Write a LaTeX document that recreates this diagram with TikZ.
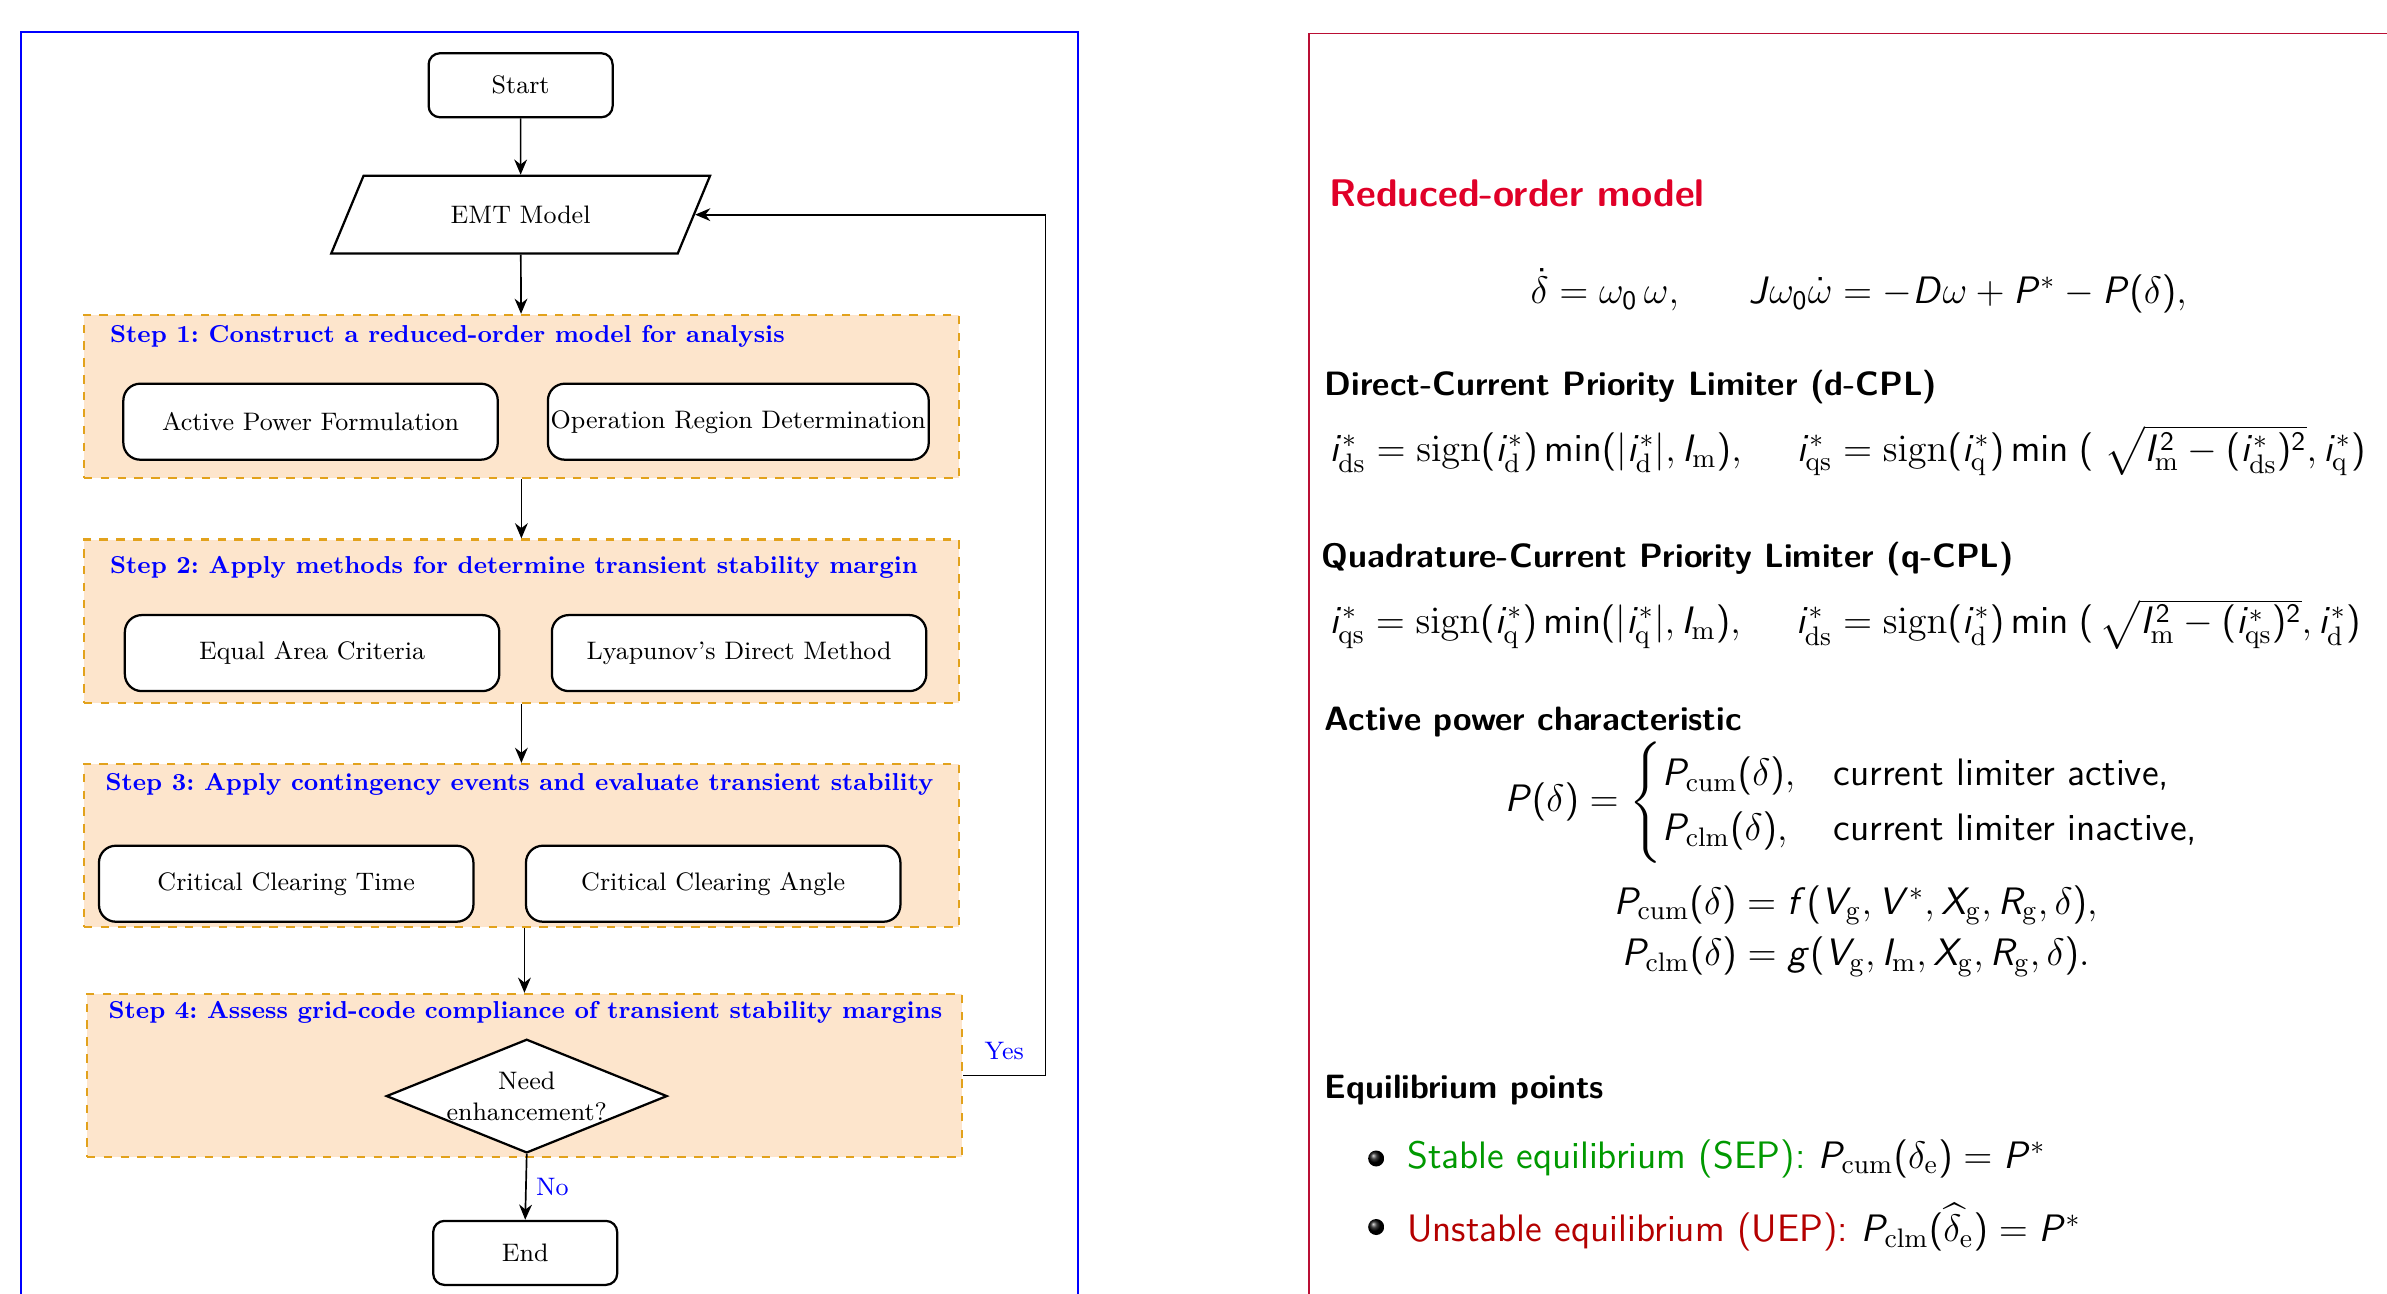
\documentclass[tikz,border=0pt]{standalone}
\usepackage{fix-cm}
\usepackage{amsmath}
\usetikzlibrary{shapes.geometric,arrows.meta,positioning}
\definecolor{stepfill}{RGB}{253,229,204}
\definecolor{stepline}{RGB}{226,162,28}
\definecolor{framered}{RGB}{186,14,52}
\definecolor{titlered}{RGB}{224,0,40}
\definecolor{sepgreen}{RGB}{0,153,0}
\definecolor{uepred}{RGB}{180,0,0}

% sans letters in maths, serif \mathrm (slide look)
\DeclareSymbolFont{sfitalic}{OT1}{cmss}{m}{sl}
\SetSymbolFont{operators}{normal}{OT1}{cmss}{m}{n}
\SetMathAlphabet{\mathrm}{normal}{OT1}{cmr}{m}{n}
\DeclareMathSymbol{D}{\mathalpha}{sfitalic}{`D}
\DeclareMathSymbol{I}{\mathalpha}{sfitalic}{`I}
\DeclareMathSymbol{J}{\mathalpha}{sfitalic}{`J}
\DeclareMathSymbol{P}{\mathalpha}{sfitalic}{`P}
\DeclareMathSymbol{R}{\mathalpha}{sfitalic}{`R}
\DeclareMathSymbol{V}{\mathalpha}{sfitalic}{`V}
\DeclareMathSymbol{X}{\mathalpha}{sfitalic}{`X}
\DeclareMathSymbol{f}{\mathalpha}{sfitalic}{`f}
\DeclareMathSymbol{g}{\mathalpha}{sfitalic}{`g}
\DeclareMathSymbol{i}{\mathalpha}{sfitalic}{`i}

\newcommand{\rmsub}[1]{\mathrm{#1}}

\tikzset{
  termbox/.style={draw, thick, rounded corners=4pt, fill=white, minimum width=2.30cm, minimum height=0.80cm, font=\small},
  iobox/.style={trapezium, trapezium left angle=66, trapezium right angle=114, trapezium stretches=true, draw, thick, fill=white, minimum width=4.74cm, minimum height=0.97cm, font=\small},
  stepbox/.style={draw=stepline, thick, dashed, fill=stepfill, minimum width=10.94cm, minimum height=2.04cm},
  methodbox/.style={draw, thick, rounded corners=6pt, fill=white, minimum width=4.68cm, minimum height=0.95cm, inner sep=1pt, font=\small},
  steptitle/.style={anchor=west, inner xsep=0pt, text=blue, font=\fontsize{8.7}{10}\selectfont\bfseries\frenchspacing},
  decbox/.style={diamond, draw, thick, fill=white, aspect=2.47, minimum width=3.39cm, minimum height=1.37cm, inner sep=0pt, align=center, font=\small},
  flow/.style={semithick, -{Stealth[length=1.9mm, width=1.6mm]}},
  sechead/.style={anchor=west, inner xsep=0pt, font=\sffamily\bfseries\fontsize{12}{14}\selectfont},
  eqline/.style={font=\sffamily\fontsize{13.6}{16.3}\selectfont},
}

\begin{document}
\begin{tikzpicture}[x=0.01903cm, y=-0.01903cm]
  \path[use as bounding box, clip] (0,0) rectangle (1568,850);

  % ---- flow chart ----
  \draw[blue, line width=0.6pt] (14,21) rectangle (708,880);

  \node[termbox] (start) at (342,56) {Start};
  \node[iobox] (emt) at (342,141) {EMT Model};

  \node[stepbox] (step1) at (342.5,260.5) {};
  \node[steptitle] at (72,221) {Step 1: Construct a reduced-order model for analysis};
  \node[methodbox] (apf) at (204,277) {Active Power Formulation};
  \node[methodbox] (ord) at (485,277) {Operation Region Determination};

  \node[stepbox] (step2) at (342.5,408) {};
  \node[steptitle] at (72,373) {Step 2: Apply methods for determine transient stability margin};
  \node[methodbox] (eac) at (205,429) {Equal Area Criteria};
  \node[methodbox] (lya) at (485.5,429) {Lyapunov's Direct Method};

  \node[stepbox] (step3) at (342.5,555.5) {};
  \node[steptitle] at (69,515) {Step 3: Apply contingency events and evaluate transient stability};
  \node[methodbox] (cct) at (188,580.5) {Critical Clearing Time};
  \node[methodbox] (cca) at (468.5,580.5) {Critical Clearing Angle};

  \node[stepbox] (step4) at (344.5,706.5) {};
  \node[steptitle] at (71,665) {Step 4: Assess grid-code compliance of transient stability margins};
  \node[decbox] (need) at (346,720) {Need\\enhancement?};

  \node[termbox] (end) at (345,823) {End};

  \draw[flow] (start) -- (emt);
  \draw[flow] (emt) -- (step1);
  \draw[flow] (step1) -- (step2);
  \draw[flow] (step2) -- (step3);
  \draw[flow] (step3.south -| step4) -- (step4.north);
  \draw[flow] (need.south) -- node[right, text=blue, font=\small] {No} (end.north);
  \draw[flow] (step4.east) -- node[above, text=blue, font=\small, yshift=2pt] {Yes} ++(54,0) |- (emt.east);

  % ---- model summary ----
  \draw[framered, line width=0.6pt] (860,22) rectangle (1620,880);

  \node[anchor=west, inner xsep=0pt, text=titlered, font=\sffamily\bfseries\fontsize{13.7}{16}\selectfont] (rom) at (873,127) {Reduced-order model};
  \node[eqline] (swing) at (1221,191)
    {$\dot{\delta}=\omega_0\,\omega,\quad\ \ J\omega_0\dot{\omega}=-D\omega+P^*-P(\delta),$};

  \node[sechead] (dcpl) at (870,254) {Direct-Current Priority Limiter (d-CPL)};
  \node[eqline, anchor=west, inner xsep=0pt] (dcpleq) at (873,296)
    {$i^*_{\rmsub{ds}}=\rmsub{sign}(i^*_{\rmsub d})\min(|i^*_{\rmsub d}|,I_{\rmsub m}),\quad\;
      i^*_{\rmsub{qs}}=\rmsub{sign}(i^*_{\rmsub q})\min\;(\;\sqrt{I_{\rmsub m}^2-(i^*_{\rmsub{ds}})^2},i^*_{\rmsub q})$};

  \node[sechead] (qcpl) at (868,367) {Quadrature-Current Priority Limiter (q-CPL)};
  \node[eqline, anchor=west, inner xsep=0pt] (qcpleq) at (873,410)
    {$i^*_{\rmsub{qs}}=\rmsub{sign}(i^*_{\rmsub q})\min(|i^*_{\rmsub q}|,I_{\rmsub m}),\quad\;
      i^*_{\rmsub{ds}}=\rmsub{sign}(i^*_{\rmsub d})\min\;(\,\sqrt{I_{\rmsub m}^2-(i^*_{\rmsub{qs}})^2},i^*_{\rmsub d})$};

  \node[sechead] (apc) at (870,474) {Active power characteristic};
  \node[eqline] (pcase) at (1217,527)
    {$P(\delta)=\begin{cases}P_{\rmsub{cum}}(\delta), & \text{current limiter active,}\\
      P_{\rmsub{clm}}(\delta), & \text{current limiter inactive,}\end{cases}$};
  \node[eqline, align=center] (pfun) at (1219,611.5)
    {$P_{\rmsub{cum}}(\delta)=f(V_{\rmsub g},V^*,X_{\rmsub g},R_{\rmsub g},\delta),$\\[2pt]
     $P_{\rmsub{clm}}(\delta)=g(V_{\rmsub g},I_{\rmsub m},X_{\rmsub g},R_{\rmsub g},\delta).$};

  \node[sechead] (eqp) at (870,716) {Equilibrium points};
  \shade[ball color=black] (904,761) circle (0.1cm);
  \node[eqline, anchor=west, inner xsep=0pt] (sep) at (924,761)
    {\textcolor{sepgreen}{Stable equilibrium (SEP):} $P_{\rmsub{cum}}(\delta_{\rmsub e})=P^*$};
  \shade[ball color=black] (904,806) circle (0.1cm);
  \node[eqline, anchor=west, inner xsep=0pt] (uep) at (924,806)
    {\textcolor{uepred}{Unstable equilibrium (UEP):} $P_{\rmsub{clm}}(\widehat{\delta}_{\rmsub e})=P^*$};
\end{tikzpicture}
\end{document}
